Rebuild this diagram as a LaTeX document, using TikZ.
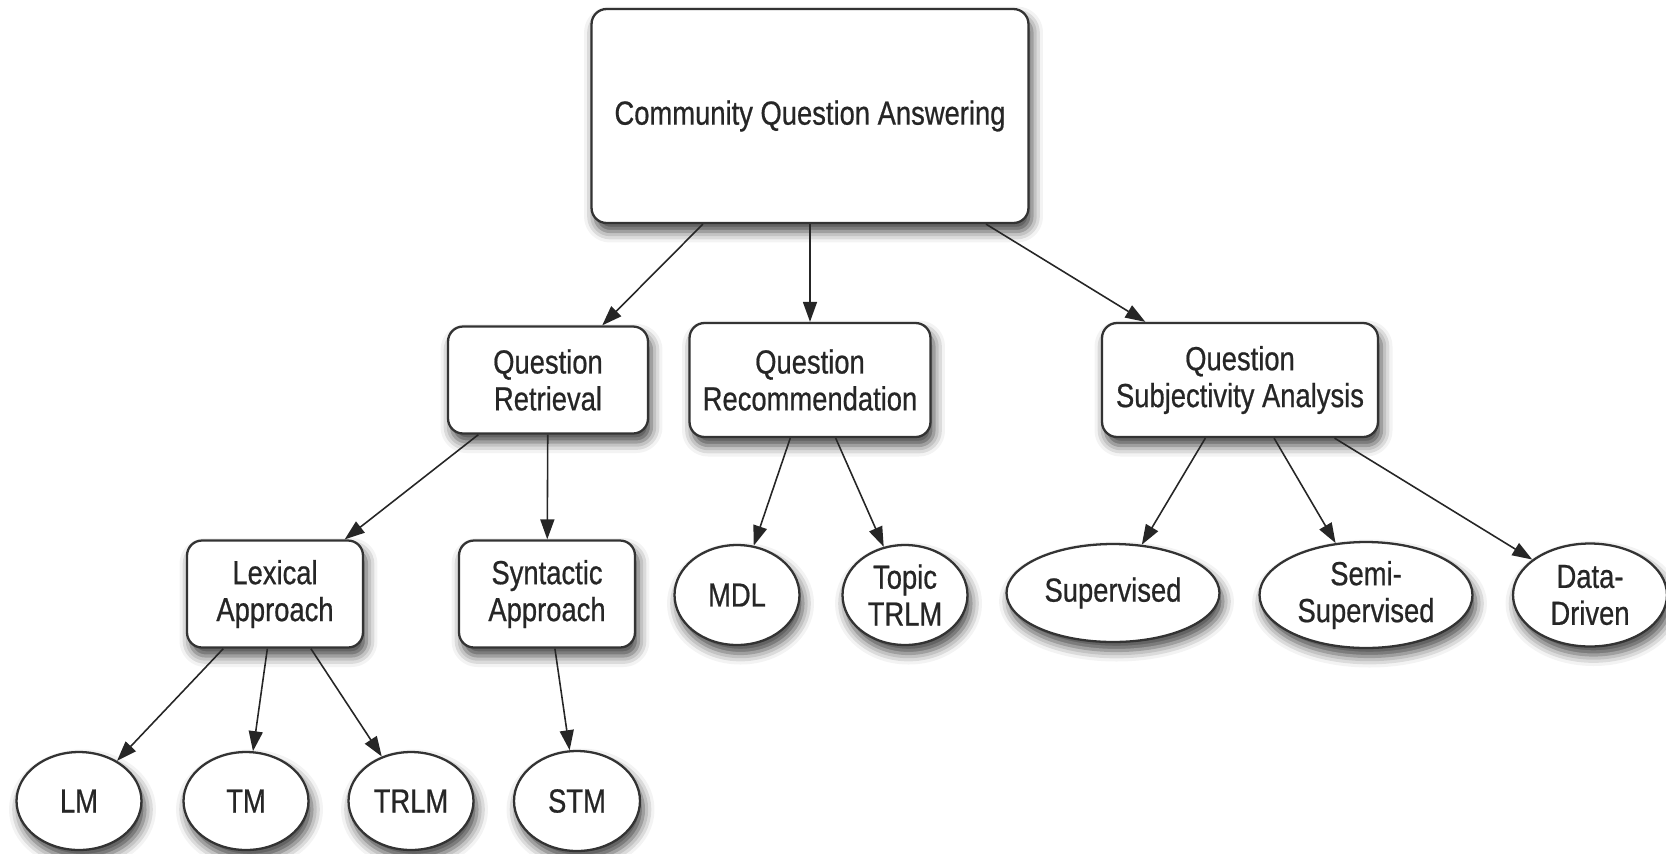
\documentclass[tikz,border=0pt]{standalone}
\usepackage{fontspec}
\setmainfont{Liberation Sans}[FakeStretch=0.82,FakeBold=0.6]
\usetikzlibrary{arrows.meta,shapes.geometric,shadows.blur}

\begin{document}
\begin{tikzpicture}[x=0.02cm,y=-0.02cm,
		every node/.style={font=\fontsize{19}{21}\selectfont, text=black!85, align=center, inner sep=0pt},
		shade/.style={blur shadow={shadow xshift=0.07cm, shadow yshift=-0.17cm, shadow blur radius=0.22cm, shadow opacity=75}},
		box/.style={draw=black!80, line width=1.3pt, fill=white, rounded corners=0.3cm, shade},
		leaf/.style={ellipse, draw=black!80, line width=1.3pt, fill=white, shade},
		arr/.style={-{Triangle[length=0.4cm,width=0.28cm]}, line width=0.9pt, draw=black!85}]
		\useasboundingbox (0,0) rectangle (1666,853);

		% root
		\node[box, minimum width=8.74cm, minimum height=4.28cm] (cqa) at (810,116) {Community Question Answering};

		% tasks
		\node[box, minimum width=4cm, minimum height=2.14cm] (qr) at (548,380) {Question\\Retrieval};
		\node[box, minimum width=4.82cm, minimum height=2.28cm] (qrec) at (810,380) {Question\\Recommendation};
		\node[box, minimum width=5.52cm, minimum height=2.28cm] (qsa) at (1240,380) {Question\\Subjectivity Analysis};

		\node[box, minimum width=3.52cm, minimum height=2.14cm] (lex) at (275,594) {Lexical\\Approach};
		\node[box, minimum width=3.52cm, minimum height=2.14cm] (syn) at (547,594) {Syntactic\\Approach};

		% methods
		\node[leaf, minimum width=2.5cm, minimum height=1.96cm] (lm) at (79,801) {LM};
		\node[leaf, minimum width=2.5cm, minimum height=1.96cm] (tm) at (246,801) {TM};
		\node[leaf, minimum width=2.5cm, minimum height=1.96cm] (trlm) at (411,801) {TRLM};
		\node[leaf, minimum width=2.52cm, minimum height=2cm] (stm) at (577,801) {STM};

		\node[leaf, minimum width=2.5cm, minimum height=2cm] (mdl) at (737,595) {MDL};
		\node[leaf, minimum width=2.5cm, minimum height=2cm] (topic) at (905,595) {Topic\\TRLM};

		\node[leaf, minimum width=4.26cm, minimum height=1.96cm] (sup) at (1113,593) {Supervised};
		\node[leaf, minimum width=4.26cm, minimum height=2.12cm] (semi) at (1366,595) {Semi-\\Supervised};
		\node[leaf, minimum width=3.08cm, minimum height=2.06cm] (data) at (1590,595) {Data-\\Driven};

		\draw[arr] (cqa) -- (qr);
		\draw[arr] (cqa) -- (qrec);
		\draw[arr] (cqa) -- (qsa);

		\draw[arr] (qr) -- (lex);
		\draw[arr] (qr) -- (syn);
		\draw[arr] (lex) -- (lm);
		\draw[arr] (lex) -- (tm);
		\draw[arr] (lex) -- (trlm);
		\draw[arr] (syn) -- (stm);

		\draw[arr] (qrec) -- (mdl);
		\draw[arr] (qrec) -- (topic);

		\draw[arr] (qsa) -- (sup);
		\draw[arr] (qsa) -- (semi);
		\draw[arr] (qsa) -- (data);
	\end{tikzpicture}
\end{document}
